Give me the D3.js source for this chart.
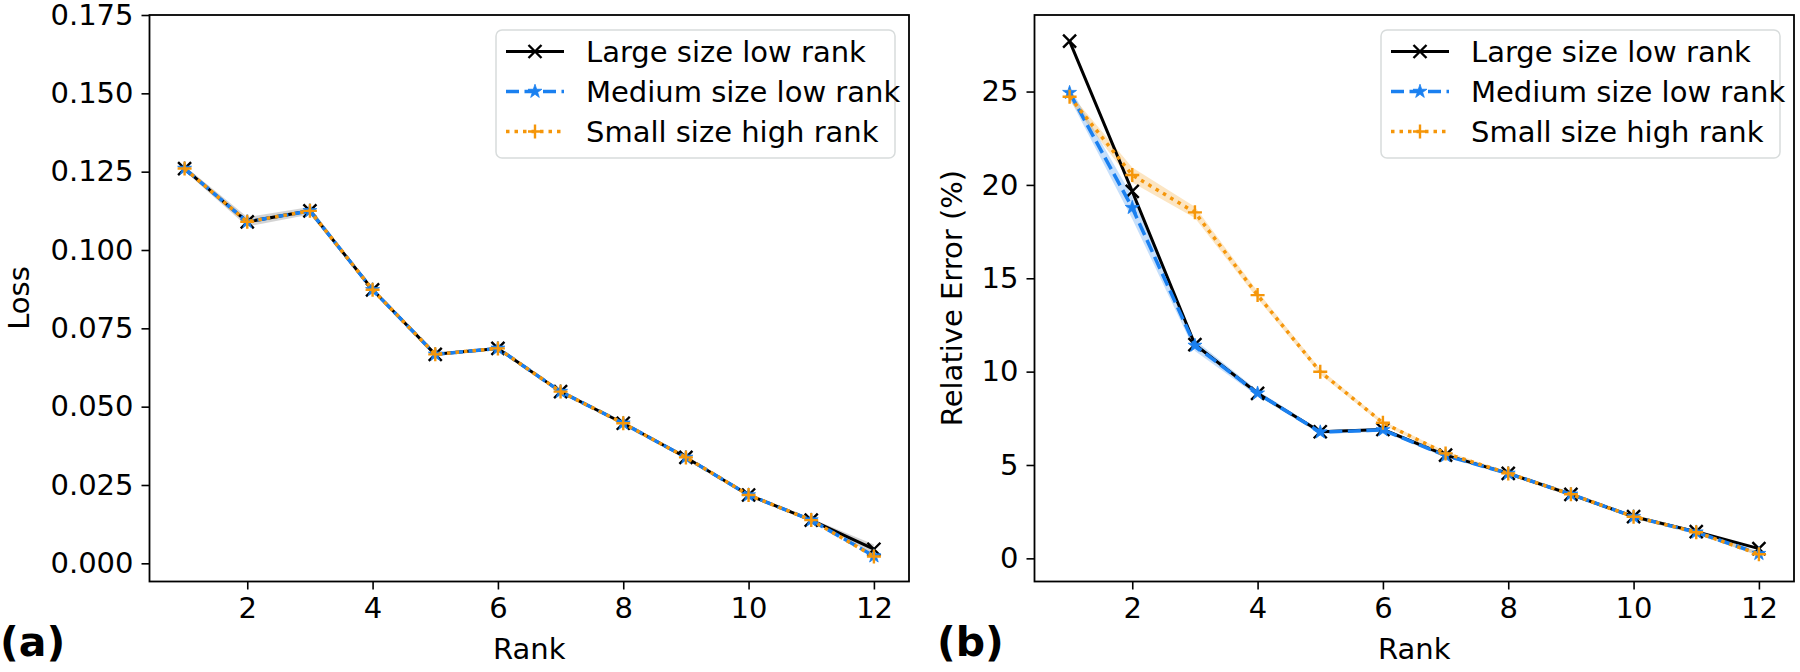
<!DOCTYPE html>
<html>
<head>
<meta charset="utf-8">
<script src="https://cdn.jsdelivr.net/npm/d3@7"></script>
<style>
  body { margin: 0; background: #fff; }
  text { font-family: "DejaVu Sans", sans-serif; fill: #000; }
</style>
</head>
<body>
<div id="chart"></div>
<script>
var svgWidth = 1800;
var svgHeight = 672;

// data
var ranks = [1, 2, 3, 4, 5, 6, 7, 8, 9, 10, 11, 12];
var seriesNames = ["Large size low rank", "Medium size low rank", "Small size high rank"];

var lossLarge  = [0.126, 0.109, 0.1125, 0.0873, 0.0667, 0.0686, 0.0548, 0.0447, 0.0338, 0.0218, 0.0138, 0.0045];
var lossMedium = [0.126, 0.109, 0.1125, 0.0873, 0.0667, 0.0686, 0.0548, 0.0447, 0.0338, 0.0218, 0.0138, 0.0023];
var lossSmall  = [0.126, 0.109, 0.1125, 0.0873, 0.0667, 0.0686, 0.0548, 0.0447, 0.0338, 0.0218, 0.0138, 0.0022];
var lossLargeSpread = [0.0008, 0.0015, 0.0012, 0.0004, 0.0003, 0.0003, 0.0003, 0.0003, 0.0003, 0.0003, 0.0005, 0.0015];

var errLarge  = [27.7, 19.65, 11.45, 8.84, 6.78, 6.9, 5.53, 4.55, 3.43, 2.23, 1.43, 0.52];
var errMedium = [24.94, 18.78, 11.4, 8.84, 6.76, 6.88, 5.5, 4.55, 3.43, 2.23, 1.4, 0.25];
var errSmall  = [24.72, 20.53, 18.53, 14.1, 9.99, 7.26, 5.62, 4.55, 3.43, 2.23, 1.4, 0.22];
var errMediumSpread = [0.3, 0.6, 0.3, 0.15, 0.1, 0.1, 0.1, 0.1, 0.1, 0.1, 0.1, 0.1];
var errSmallSpread  = [0.2, 0.4, 0.3, 0.2, 0.15, 0.1, 0.1, 0.1, 0.1, 0.1, 0.1, 0.1];

var rankTicks = [2, 4, 6, 8, 10, 12];
var lossTicks = [0, 0.025, 0.05, 0.075, 0.1, 0.125, 0.15, 0.175];
var errTicks  = [0, 5, 10, 15, 20, 25];

var colors = ["#000000", "#1a80f0", "#f5960a"];

var svg = d3.select("#chart")
  .append("svg")
  .attr("width", svgWidth)
  .attr("height", svgHeight);

function drawMarker(g, kind, color) {
  if (kind === "x") {
    g.append("path").attr("d", "M-6.5,-6.5L6.5,6.5M-6.5,6.5L6.5,-6.5")
      .attr("stroke", color).attr("stroke-width", 2.4).attr("fill", "none");
  } else if (kind === "star") {
    g.append("path").attr("d", d3.symbol().type(d3.symbolStar).size(60)())
      .attr("fill", color).attr("stroke", color).attr("stroke-width", 0.8);
  } else {
    g.append("path").attr("d", "M-7,0L7,0M0,-7L0,7")
      .attr("stroke", color).attr("stroke-width", 2.4).attr("fill", "none");
  }
}

var styles = [
  { dash: null, width: 3, marker: "x" },
  { dash: "13,5.5", width: 3.5, marker: "star" },
  { dash: "3.5,5", width: 3.5, marker: "plus" }
];

function drawPanel(p) {
  var x = d3.scaleLinear().domain([0.44, 12.56]).range([p.left, p.right]);
  var y = d3.scaleLinear().domain(p.yDomain).range([581.5, 15]);

  var g = svg.append("g");

  // spread bands
  p.bands.forEach(function(b) {
    var area = d3.area()
      .x(function(d, i) { return x(ranks[i]); })
      .y0(function(d, i) { return y(p.series[b.idx][i] - d); })
      .y1(function(d, i) { return y(p.series[b.idx][i] + d); });
    g.append("path").datum(b.spread)
      .attr("d", area)
      .attr("fill", b.color)
      .attr("opacity", 0.25);
  });

  p.series.forEach(function(vals, k) {
    var line = d3.line()
      .x(function(d, i) { return x(ranks[i]); })
      .y(function(d) { return y(d); });
    g.append("path").datum(vals)
      .attr("d", line)
      .attr("fill", "none")
      .attr("stroke", colors[k])
      .attr("stroke-width", styles[k].width)
      .attr("stroke-dasharray", styles[k].dash)
      .attr("stroke-linejoin", "round");
    vals.forEach(function(v, i) {
      var m = g.append("g").attr("transform", "translate(" + x(ranks[i]) + "," + y(v) + ")");
      drawMarker(m, styles[k].marker, colors[k]);
    });
  });

  // axes
  var xAxis = d3.axisBottom(x).tickValues(rankTicks).tickSize(8).tickPadding(6).tickFormat(d3.format("d"));
  var yAxis = d3.axisLeft(y).tickValues(p.yTicks).tickSize(8).tickPadding(8).tickFormat(p.fmt);

  var gx = g.append("g").attr("transform", "translate(0,581.5)").call(xAxis);
  var gy = g.append("g").attr("transform", "translate(" + p.left + ",0)").call(yAxis);
  [gx, gy].forEach(function(a) {
    a.select(".domain").remove();
    a.selectAll(".tick line").attr("stroke", "#000").attr("stroke-width", 1.6);
    a.selectAll(".tick text").attr("font-size", 29).attr("font-family", "DejaVu Sans");
  });
  gx.selectAll(".tick text").attr("dy", "0.78em");

  // frame
  g.append("rect")
    .attr("x", p.left).attr("y", 15)
    .attr("width", p.right - p.left).attr("height", 581.5 - 15)
    .attr("fill", "none").attr("stroke", "#000").attr("stroke-width", 1.8);

  // axis labels
  g.append("text")
    .attr("x", (p.left + p.right) / 2).attr("y", 659)
    .attr("text-anchor", "middle").attr("font-size", 29)
    .text("Rank");
  g.append("text")
    .attr("transform", "translate(" + p.yLabelX + "," + 298 + ") rotate(-90)")
    .attr("text-anchor", "middle").attr("font-size", 29)
    .text(p.yLabel);

  // panel letter
  g.append("text")
    .attr("x", p.letterX).attr("y", 656)
    .attr("font-size", 41).attr("font-weight", "bold")
    .text(p.letter);

  // legend
  var lg = g.append("g").attr("transform", "translate(" + (p.right - 413) + ",30)");
  lg.append("rect")
    .attr("width", 399).attr("height", 128).attr("rx", 6)
    .attr("fill", "#fff").attr("fill-opacity", 0.8)
    .attr("stroke", "#d8dcdc").attr("stroke-width", 1.5);
  seriesNames.forEach(function(name, k) {
    var ry = 21.5 + k * 40;
    lg.append("line")
      .attr("x1", 10).attr("x2", 68).attr("y1", ry).attr("y2", ry)
      .attr("stroke", colors[k]).attr("stroke-width", styles[k].width)
      .attr("stroke-dasharray", styles[k].dash);
    var m = lg.append("g").attr("transform", "translate(39," + ry + ")");
    drawMarker(m, styles[k].marker, colors[k]);
    lg.append("text")
      .attr("x", 90).attr("y", ry).attr("dy", "0.36em")
      .attr("font-size", 29)
      .text(name);
  });
}

drawPanel({
  left: 149.5, right: 909,
  yDomain: [-0.0058, 0.175],
  yTicks: lossTicks, fmt: d3.format(".3f"),
  series: [lossLarge, lossMedium, lossSmall],
  bands: [{ idx: 0, spread: lossLargeSpread, color: "#555" }],
  yLabel: "Loss", yLabelX: 29,
  letter: "(a)", letterX: 0
});

drawPanel({
  left: 1034.5, right: 1794,
  yDomain: [-1.24, 29.1],
  yTicks: errTicks, fmt: d3.format("d"),
  series: [errLarge, errMedium, errSmall],
  bands: [
    { idx: 1, spread: errMediumSpread, color: colors[1] },
    { idx: 2, spread: errSmallSpread, color: colors[2] }
  ],
  yLabel: "Relative Error (%)", yLabelX: 962,
  letter: "(b)", letterX: 937
});
</script>
</body>
</html>
